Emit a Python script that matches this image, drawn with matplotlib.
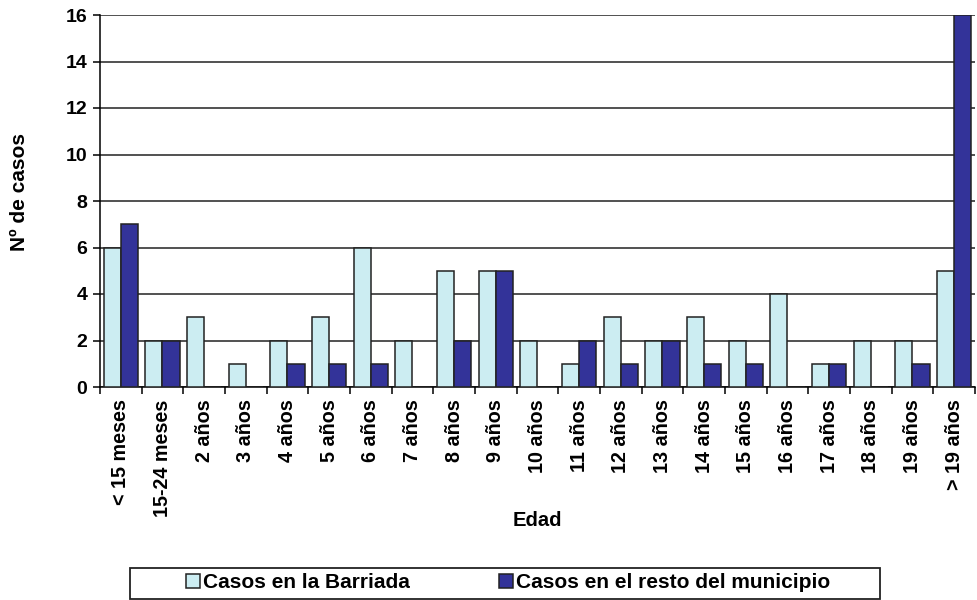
import numpy as np
import matplotlib.pyplot as plt
from matplotlib.patches import Rectangle

plt.rcParams['font.family'] = ['Liberation Sans', 'DejaVu Sans']
plt.rcParams['font.weight'] = 'bold'

# datos
edades = ['< 15 meses', '15-24 meses', '2 años', '3 años', '4 años', '5 años',
          '6 años', '7 años', '8 años', '9 años', '10 años', '11 años',
          '12 años', '13 años', '14 años', '15 años', '16 años', '17 años',
          '18 años', '19 años', '> 19 años']
barriada = [6, 2, 3, 1, 2, 3, 6, 2, 5, 5, 2, 1, 3, 2, 3, 2, 4, 1, 2, 2, 5]
resto = [7, 2, 0, 0, 1, 1, 1, 0, 2, 5, 0, 2, 1, 2, 1, 1, 0, 1, 0, 1, 16]
yticks = [0, 2, 4, 6, 8, 10, 12, 14, 16]

c_barriada = '#CCEDF2'
c_resto = '#333399'

fig = plt.figure(figsize=(9.78, 6), dpi=100)
ax = fig.add_axes([100/978, 1-387/600, 875/978, 372/600])

x = np.arange(len(edades))
w = 0.41
ax.bar(x - w/2, barriada, w, color=c_barriada, edgecolor='#222222', linewidth=1.1,
       label='Casos en la Barriada', zorder=3)
ax.bar(x + w/2, resto, w, color=c_resto, edgecolor='#222222', linewidth=1.1,
       label='Casos en el resto del municipio', zorder=3)

ax.set_xlim(-0.5, len(edades) - 0.5)
ax.set_ylim(0, 16)
ax.set_yticks(yticks)
ax.yaxis.grid(True, color='#222222', linewidth=1.1, zorder=0)
ax.set_axisbelow(True)

ax.set_xticks(x)
ax.set_xticklabels(edades, rotation=90, fontsize=14.2, fontweight='bold')
ax.set_xticks(np.arange(len(edades) + 1) - 0.5, minor=True)
ax.tick_params(axis='x', which='major', length=0, pad=9)
ax.tick_params(axis='x', which='minor', length=5, width=1.1, direction='out')
ax.tick_params(axis='y', length=5, width=1.1, labelsize=14, pad=4)
for t in ax.get_yticklabels():
    t.set_fontweight('bold')

ax.spines['top'].set_visible(False)
ax.spines['right'].set_visible(False)
ax.spines['left'].set_linewidth(1.1)
ax.spines['bottom'].set_linewidth(1.1)

fig.text(537/978, 1-520/600, 'Edad', fontsize=14.5, fontweight='bold',
         ha='center', va='center')
fig.text(20/978, 1-192/600, 'Nº de casos', rotation=90, fontsize=15,
         fontweight='bold', ha='center', va='center')

# leyenda
leg = fig.legend(loc='center', bbox_to_anchor=(508/978, 1-583/600), ncol=2,
                 frameon=False, fontsize=15, handlelength=0.65, handleheight=0.65,
                 handletextpad=0.15, columnspacing=4.3)
fig.patches.append(Rectangle((130/978, 1-599/600), 750/978, 31/600,
                             transform=fig.transFigure, fill=False,
                             edgecolor='#222222', linewidth=1.3))

fig.savefig('out.png', dpi=100)
